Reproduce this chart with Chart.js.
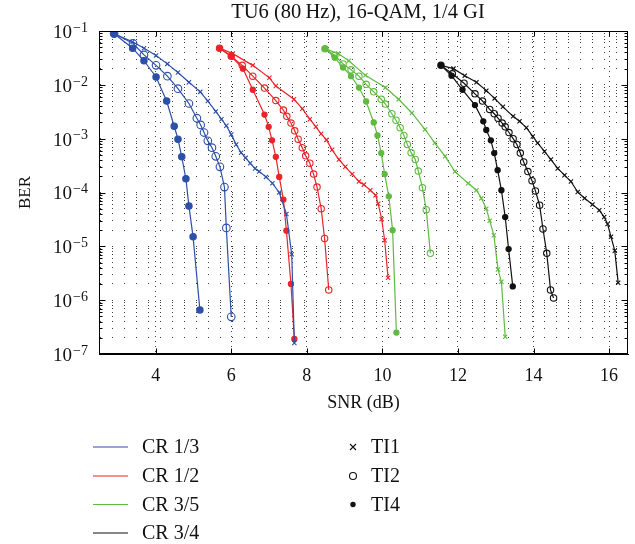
<!DOCTYPE html>
<html>
<head>
<meta charset="utf-8">
<script src="https://cdn.jsdelivr.net/npm/chart.js@4.4.0/dist/chart.umd.min.js"></script>
<style>
  html, body { margin: 0; padding: 0; background: #fff; }
</style>
</head>
<body>
<canvas id="berChart" width="635" height="544"></canvas>
<script>
const titleText = "TU6 (80\u2009Hz), 16-QAM, 1/4 GI"
const xTicks = [4, 6, 8, 10, 12, 14, 16]
const yExponents = [-7, -6, -5, -4, -3, -2, -1]

const codeRates = ["CR 1/3", "CR 1/2", "CR 3/5", "CR 3/4"]
const rateColors = ["#2c4fa9", "#ec2328", "#5fbb40", "#111111"]
const interleavers = ["TI1", "TI2", "TI4"]

// CR 1/3
const snr_13_ti1 = [2.90, 3.39, 3.69, 4.01, 4.31, 4.59, 4.88, 5.18, 5.38, 5.59, 5.74, 5.87, 6.00, 6.13, 6.26, 6.38, 6.50, 6.63, 6.74, 6.92, 7.09, 7.27, 7.46, 7.60, 7.67]
const ber_13_ti1 = [8.9e-2, 6.3e-2, 4.8e-2, 3.5e-2, 2.45e-2, 1.7e-2, 1.12e-2, 7.4e-3, 5.0e-3, 3.2e-3, 2.3e-3, 1.74e-3, 1.2e-3, 7.8e-4, 5.5e-4, 4.4e-4, 3.5e-4, 2.8e-4, 2.45e-4, 1.95e-4, 1.48e-4, 1.0e-4, 4.0e-5, 7.1e-6, 1.6e-7]
const snr_13_ti2 = [2.90, 3.40, 3.69, 4.01, 4.31, 4.59, 4.88, 5.09, 5.19, 5.28, 5.38, 5.49, 5.59, 5.70, 5.82, 5.87, 6.00]
const ber_13_ti2 = [8.9e-2, 5.9e-2, 3.6e-2, 2.3e-2, 1.45e-2, 8.5e-3, 4.5e-3, 2.4e-3, 1.8e-3, 1.3e-3, 9.1e-4, 6.8e-4, 4.7e-4, 3.0e-4, 1.26e-4, 2.2e-5, 4.9e-7]
const snr_13_ti4 = [2.90, 3.39, 3.69, 4.01, 4.29, 4.49, 4.59, 4.69, 4.80, 4.88, 4.99, 5.17]
const ber_13_ti4 = [8.9e-2, 4.8e-2, 2.8e-2, 1.4e-2, 5.0e-3, 1.7e-3, 9.8e-4, 4.6e-4, 1.8e-4, 5.6e-5, 1.5e-5, 6.6e-7]

// CR 1/2
const snr_12_ti1 = [5.69, 6.04, 6.57, 7.01, 7.18, 7.66, 7.88, 8.08, 8.24, 8.38, 8.52, 8.67, 8.85, 9.02, 9.20, 9.38, 9.51, 9.68, 9.82, 9.89, 9.98, 10.06, 10.15]
const ber_12_ti1 = [4.8e-2, 3.8e-2, 2.3e-2, 1.35e-2, 9.5e-3, 5.4e-3, 3.6e-3, 2.3e-3, 1.66e-3, 1.23e-3, 9.5e-4, 6.2e-4, 4.1e-4, 3.0e-4, 2.2e-4, 1.6e-4, 1.4e-4, 1.1e-4, 8.9e-5, 6.2e-5, 3.2e-5, 1.3e-5, 2.6e-6]
const snr_12_ti2 = [5.69, 6.00, 6.29, 6.57, 6.88, 7.18, 7.38, 7.47, 7.58, 7.68, 7.77, 7.88, 7.97, 8.08, 8.18, 8.27, 8.38, 8.47, 8.58]
const ber_12_ti2 = [4.8e-2, 3.4e-2, 2.3e-2, 1.45e-2, 8.7e-3, 5.1e-3, 3.4e-3, 2.6e-3, 1.95e-3, 1.4e-3, 9.8e-4, 6.8e-4, 4.8e-4, 3.5e-4, 2.2e-4, 1.26e-4, 5.0e-5, 1.4e-5, 1.55e-6]
const snr_12_ti4 = [5.69, 6.00, 6.31, 6.57, 6.88, 6.99, 7.08, 7.18, 7.27, 7.38, 7.46, 7.58, 7.67]
const ber_12_ti4 = [4.8e-2, 3.4e-2, 2.0e-2, 8.1e-3, 2.8e-3, 1.66e-3, 9.3e-4, 4.6e-4, 1.95e-4, 7.4e-5, 1.95e-5, 2.0e-6, 1.9e-7]

// CR 3/5
const snr_35_ti1 = [8.48, 8.83, 9.11, 9.55, 10.08, 10.43, 10.78, 11.13, 11.39, 11.66, 11.92, 12.27, 12.49, 12.62, 12.75, 12.84, 12.95, 13.06, 13.15, 13.25]
const ber_35_ti1 = [4.7e-2, 3.8e-2, 2.8e-2, 1.5e-2, 8.9e-3, 5.4e-3, 3.0e-3, 1.48e-3, 8.3e-4, 4.7e-4, 2.45e-4, 1.48e-4, 1.1e-4, 7.8e-5, 5.0e-5, 3.0e-5, 1.6e-5, 3.7e-6, 2.2e-6, 2.1e-7]
const snr_35_ti2 = [8.48, 8.74, 8.96, 9.17, 9.38, 9.57, 9.77, 9.97, 10.08, 10.25, 10.36, 10.47, 10.57, 10.66, 10.76, 10.87, 10.95, 11.06, 11.16, 11.27]
const ber_35_ti2 = [4.7e-2, 3.5e-2, 2.45e-2, 1.9e-2, 1.45e-2, 1.02e-2, 7.4e-3, 5.4e-3, 4.4e-3, 2.9e-3, 2.2e-3, 1.6e-3, 1.15e-3, 7.8e-4, 5.5e-4, 4.1e-4, 2.5e-4, 1.23e-4, 4.8e-5, 7.4e-6]
const snr_35_ti4 = [8.48, 8.74, 8.96, 9.17, 9.38, 9.57, 9.77, 9.87, 9.97, 10.06, 10.17, 10.27, 10.37]
const ber_35_ti4 = [4.7e-2, 3.2e-2, 2.1e-2, 1.45e-2, 8.9e-3, 4.9e-3, 2.0e-3, 1.15e-3, 5.4e-4, 2.2e-4, 8.5e-5, 2.0e-5, 2.5e-7]

// CR 3/4
const snr_34_ti1 = [11.55, 11.88, 12.18, 12.49, 12.75, 12.97, 13.19, 13.46, 13.63, 13.81, 13.98, 14.11, 14.29, 14.46, 14.64, 14.82, 14.99, 15.17, 15.35, 15.56, 15.74, 15.87, 15.96, 16.05, 16.15, 16.24]
const ber_34_ti1 = [2.3e-2, 2.0e-2, 1.48e-2, 1.12e-2, 7.8e-3, 5.6e-3, 3.9e-3, 2.6e-3, 2.1e-3, 1.6e-3, 1.1e-3, 8.3e-4, 5.8e-4, 4.1e-4, 2.8e-4, 2.1e-4, 1.6e-4, 1.02e-4, 7.8e-5, 6.0e-5, 4.7e-5, 3.5e-5, 2.6e-5, 1.5e-5, 8.3e-6, 2.1e-6]
const snr_34_ti2 = [11.55, 11.85, 12.16, 12.45, 12.65, 12.84, 12.96, 13.06, 13.17, 13.25, 13.35, 13.46, 13.56, 13.65, 13.74, 13.85, 13.96, 14.05, 14.16, 14.25, 14.35, 14.45, 14.53]
const ber_34_ti2 = [2.3e-2, 1.6e-2, 1.07e-2, 6.8e-3, 5.0e-3, 3.5e-3, 2.9e-3, 2.4e-3, 1.95e-3, 1.66e-3, 1.3e-3, 1.0e-3, 7.8e-4, 5.4e-4, 3.7e-4, 2.45e-4, 1.66e-4, 1.07e-4, 5.8e-5, 2.1e-5, 7.4e-6, 1.55e-6, 1.1e-6]
const snr_34_ti4 = [11.55, 11.83, 12.12, 12.45, 12.67, 12.75, 12.87, 12.96, 13.05, 13.15, 13.25, 13.34, 13.45]
const ber_34_ti4 = [2.3e-2, 1.48e-2, 8.1e-3, 4.2e-3, 2.1e-3, 1.45e-3, 9.3e-4, 5.4e-4, 2.6e-4, 1.1e-4, 3.5e-5, 8.9e-6, 1.8e-6]

const curves = [
	[0, 0, snr_13_ti1, ber_13_ti1], [0, 1, snr_13_ti2, ber_13_ti2], [0, 2, snr_13_ti4, ber_13_ti4],
	[1, 0, snr_12_ti1, ber_12_ti1], [1, 1, snr_12_ti2, ber_12_ti2], [1, 2, snr_12_ti4, ber_12_ti4],
	[2, 0, snr_35_ti1, ber_35_ti1], [2, 1, snr_35_ti2, ber_35_ti2], [2, 2, snr_35_ti4, ber_35_ti4],
	[3, 0, snr_34_ti1, ber_34_ti1], [3, 1, snr_34_ti2, ber_34_ti2], [3, 2, snr_34_ti4, ber_34_ti4],
]

const serif = "'Liberation Serif', 'DejaVu Serif', serif"
Chart.defaults.font.family = serif
Chart.defaults.color = "#111"

// every minor/major value of the log axis, for grid lines and inner ticks
const yTickValues = []
yExponents.forEach(e => {
	const step = Math.pow(10, e)
	if (e === -1) { yTickValues.push(step); return }
	for (let m = 1; m <= 9; m++) yTickValues.push(m * step)
})

const datasets = curves.map(([r, t, snr, ber]) => {
	const color = rateColors[r]
	const big = r === 0 ? 0.6 : 0
	return {
		label: codeRates[r] + " " + interleavers[t],
		data: snr.map((x, i) => ({ x: x, y: ber[i] })),
		borderColor: color,
		borderWidth: 1.2,
		tension: 0,
		pointStyle: t === 0 ? "crossRot" : "circle",
		pointRadius: t === 0 ? 3 : (t === 1 ? 3.2 + big : 2.6 + big),
		pointBorderWidth: 1.1,
		pointBorderColor: color,
		pointBackgroundColor: t === 2 ? color : "rgba(0,0,0,0)",
		fill: false,
	}
})

const decorations = {
	id: "decorations",
	afterDraw(c) {
		const { ctx, chartArea: a } = c
		const xs = c.scales.x
		const ys = c.scales.y
		const L = Math.round(a.left) + 0.5, R = Math.round(a.right) - 0.5
		const T = Math.round(a.top) + 0.5, B = Math.round(a.bottom) - 0.5
		ctx.save()
		ctx.strokeStyle = "#000"
		ctx.lineWidth = 1
		ctx.strokeRect(L, T, R - L, B - T)

		// inner ticks on all four sides
		ctx.beginPath()
		xTicks.forEach(v => {
			const px = Math.round(xs.getPixelForValue(v)) + 0.5
			ctx.moveTo(px, B); ctx.lineTo(px, B - 5)
			ctx.moveTo(px, T); ctx.lineTo(px, T + 5)
		})
		yTickValues.forEach(v => {
			const py = Math.round(ys.getPixelForValue(v)) + 0.5
			const len = Math.abs(Math.log10(v) - Math.round(Math.log10(v))) < 1e-6 ? 6 : 3
			ctx.moveTo(L, py); ctx.lineTo(L + len, py)
			ctx.moveTo(R, py); ctx.lineTo(R - len, py)
		})
		ctx.stroke()

		// y labels as 10 with a raised exponent
		ctx.fillStyle = "#111"
		ctx.textBaseline = "middle"
		ctx.textAlign = "right"
		yExponents.forEach(e => {
			const py = ys.getPixelForValue(Math.pow(10, e))
			const sup = "\u2212" + Math.abs(e)
			ctx.font = "14px " + serif
			ctx.fillText(sup, a.left - 11, py - 3)
			const w = ctx.measureText(sup).width
			ctx.font = "19px " + serif
			ctx.fillText("10", a.left - 12 - w, py + 2)
		})

		// title
		ctx.textAlign = "center"
		ctx.font = "20.5px " + serif
		ctx.fillText(titleText, 358, 13)

		// legend: code rates (lines) and interleavers (markers)
		const rows = [447, 476, 504.5, 533]
		ctx.font = "20px " + serif
		ctx.textAlign = "left"
		codeRates.forEach((name, i) => {
			ctx.strokeStyle = rateColors[i]
			ctx.lineWidth = 1.2
			ctx.beginPath()
			ctx.moveTo(93, rows[i]); ctx.lineTo(128, rows[i])
			ctx.stroke()
			ctx.fillText(name, 142, rows[i] + 1)
		})
		ctx.strokeStyle = "#111"
		ctx.fillStyle = "#111"
		ctx.lineWidth = 1.1
		interleavers.forEach((name, i) => {
			const y = rows[i]
			ctx.beginPath()
			if (i === 0) {
				ctx.moveTo(350, y - 3); ctx.lineTo(356, y + 3)
				ctx.moveTo(356, y - 3); ctx.lineTo(350, y + 3)
				ctx.stroke()
			} else if (i === 1) {
				ctx.arc(353, y, 3.5, 0, Math.PI * 2)
				ctx.stroke()
			} else {
				ctx.arc(353, y, 2.7, 0, Math.PI * 2)
				ctx.fill()
			}
			ctx.fillText(name, 371, y + 1)
		})
		ctx.restore()
	},
}

const chart = new Chart(document.getElementById("berChart").getContext("2d"), {
	type: "line",
	data: { datasets: datasets },
	options: {
		responsive: false,
		animation: false,
		layout: { padding: { top: 31, right: 7, bottom: 126, left: 0 } },
		plugins: {
			legend: { display: false },
			tooltip: { enabled: false },
		},
		scales: {
			x: {
				type: "linear",
				min: 2.5,
				max: 16.5,
				afterBuildTicks: s => { s.ticks = xTicks.map(v => ({ value: v })) },
				afterFit: s => { s.height = 64 },
				ticks: { padding: 11, font: { size: 18 }, color: "#111" },
				grid: { color: "rgba(0,0,0,0.75)", drawTicks: false, lineWidth: 1 },
				border: { display: true, color: "#000", dash: [1, 4] },
				title: { display: true, text: "SNR (dB)", font: { size: 18 }, padding: { top: 0, bottom: 4 }, color: "#111" },
			},
			y: {
				type: "logarithmic",
				min: 1e-7,
				max: 1e-1,
				afterBuildTicks: s => { s.ticks = yTickValues.map(v => ({ value: v })) },
				afterFit: s => { s.width = 99 },
				ticks: { display: false },
				grid: { color: "rgba(0,0,0,0.75)", drawTicks: false, lineWidth: 1 },
				border: { display: true, color: "#000", dash: [1, 11] },
				title: { display: true, text: "BER", font: { size: 17 }, padding: { top: 15, bottom: 0 }, color: "#111" },
			},
		},
	},
	plugins: [decorations],
})
</script>
</body>
</html>
